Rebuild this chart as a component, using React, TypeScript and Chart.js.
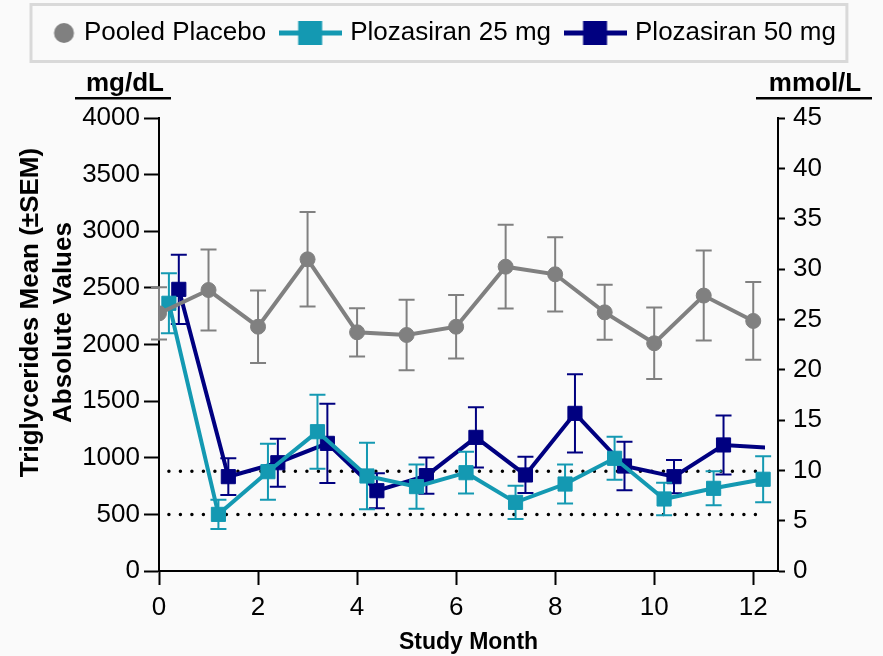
import React, { useEffect, useRef } from 'react';
import { Chart, registerables } from 'chart.js';

Chart.register(...registerables);

// Visit months (treatment arms are nudged right so the markers do not overlap)
const placeboMonths = [0, 1, 2, 3, 4, 5, 6, 7, 8, 9, 10, 11, 12];
const dose25Months = [0.2, 1.2, 2.2, 3.2, 4.2, 5.2, 6.2, 7.2, 8.2, 9.2, 10.2, 11.2, 12.2];
const dose50Months = [0.4, 1.4, 2.4, 3.4, 4.4, 5.4, 6.4, 7.4, 8.4, 9.4, 10.4, 11.4, 12.4];

// Triglycerides, mg/dL: mean and SEM
const placeboMean = [2275, 2481, 2157, 2752, 2108, 2084, 2157, 2687, 2620, 2284, 2011, 2432, 2208];
const placeboSem = [230, 357, 320, 417, 213, 312, 280, 370, 328, 243, 315, 397, 343];
const dose25Mean = [2364, 500, 877, 1230, 839, 745, 868, 606, 768, 995, 636, 730, 810];
const dose25Sem = [265, 130, 247, 327, 294, 195, 184, 147, 173, 190, 143, 150, 203];
const dose50Mean = [2487, 833, 956, 1127, 709, 842, 1180, 848, 1392, 927, 833, 1113, 1085];
const dose50Sem = [305, 162, 211, 350, 155, 160, 265, 160, 345, 215, 147, 260, null];

// Dotted reference levels (mg/dL) and the month span they cover
const refLevels = [500, 880];
const refSpan = [0.2, 12.1];

// Axis ticks
const monthTicks = [0, 2, 4, 6, 8, 10, 12];
const monthAxisMax = 12.5;
const mgTicks = [0, 500, 1000, 1500, 2000, 2500, 3000, 3500, 4000];
const mmolTicks = [0, 5, 10, 15, 20, 25, 30, 35, 40, 45];

const seriesLabels = ['Pooled Placebo', 'Plozasiran 25 mg', 'Plozasiran 50 mg'];
const GRAY = '#808080';
const TEAL = '#1499B2';
const NAVY = '#000080';
const FONT = "'Liberation Sans', Arial, sans-serif";

function toPoints(xs: number[], ys: number[]) {
  return xs.map((x, i) => ({ x, y: ys[i] }));
}

const plainTick = (v: any) => String(v);

function makeIcon(kind: 'circle' | 'square', color: string): HTMLCanvasElement {
  const c = document.createElement('canvas');
  c.width = 63;
  c.height = 26;
  const g = c.getContext('2d')!;
  g.fillStyle = color;
  g.strokeStyle = color;
  if (kind === 'circle') {
    g.beginPath();
    g.arc(51.5, 13, 10, 0, Math.PI * 2);
    g.fill();
  } else {
    g.lineWidth = 5;
    g.beginPath();
    g.moveTo(0, 13);
    g.lineTo(63, 13);
    g.stroke();
    g.fillRect(19.5, 1, 24, 24);
  }
  return c;
}

// Vertical SEM whiskers, drawn just under each series' own line
const errorBars = {
  id: 'errorBars',
  beforeDatasetDraw(chart: any, args: any) {
    const ds = chart.data.datasets[args.index];
    if (!ds.sem) return;
    const { ctx, chartArea } = chart;
    const yScale = chart.scales.y;
    ctx.save();
    ctx.strokeStyle = ds.borderColor;
    ctx.lineWidth = 2;
    const cap = 8;
    args.meta.data.forEach((pt: any, i: number) => {
      const s = ds.sem[i];
      if (s == null || pt.x > chartArea.right) return;
      const v = ds.data[i].y;
      const yTop = yScale.getPixelForValue(v + s);
      const yBot = yScale.getPixelForValue(v - s);
      ctx.beginPath();
      ctx.moveTo(pt.x, yTop);
      ctx.lineTo(pt.x, yBot);
      ctx.moveTo(pt.x - cap, yTop);
      ctx.lineTo(pt.x + cap, yTop);
      ctx.moveTo(pt.x - cap, yBot);
      ctx.lineTo(pt.x + cap, yBot);
      ctx.stroke();
    });
    ctx.restore();
  },
};

// Legend frame, unit captions and the rotated left-axis title
const decorations = {
  id: 'decorations',
  afterDraw(chart: any) {
    const { ctx, chartArea, legend } = chart;
    const { left, right, top, bottom } = chartArea;
    ctx.save();

    const boxes = legend.legendHitBoxes;
    if (boxes && boxes.length) {
      const last = boxes[boxes.length - 1];
      const l = boxes[0].left + 14;
      const r = last.left + last.width + 11;
      ctx.strokeStyle = '#d9d9d9';
      ctx.lineWidth = 3;
      ctx.strokeRect(l, legend.top + 1.5, r - l, legend.height + 4);
    }

    ctx.fillStyle = '#000';
    ctx.font = `bold 26px ${FONT}`;
    ctx.textAlign = 'center';
    ctx.textBaseline = 'alphabetic';
    ctx.fillText('mg/dL', left - 34, top - 27);
    ctx.fillRect(left - 84, top - 21, 96, 2.5);
    ctx.fillText('mmol/L', right + 37, top - 27);
    ctx.fillRect(right - 22, top - 21, 116, 2.5);

    const midY = (top + bottom) / 2;
    ctx.font = `bold 26px ${FONT}`;
    ctx.save();
    ctx.translate(left - 121, midY - 32);
    ctx.rotate(-Math.PI / 2);
    ctx.fillText('Triglycerides Mean (±SEM)', 0, 0);
    ctx.restore();
    ctx.save();
    ctx.translate(left - 88, midY - 22);
    ctx.rotate(-Math.PI / 2);
    ctx.fillText('Absolute Values', 0, 0);
    ctx.restore();

    ctx.restore();
  },
};

export default function App() {
  const canvasRef = useRef<HTMLCanvasElement | null>(null);

  useEffect(() => {
    if (!canvasRef.current) return;
    Chart.defaults.font.family = FONT;
    Chart.defaults.color = '#000';

    const icons = [makeIcon('circle', GRAY), makeIcon('square', TEAL), makeIcon('square', NAVY)];

    const refDatasets = refLevels.map((lvl) => ({
      label: `ref ${lvl}`,
      data: refSpan.map((x) => ({ x, y: lvl })),
      borderColor: '#000',
      borderWidth: 3.5,
      borderDash: [0, 11.5],
      borderCapStyle: 'round',
      pointRadius: 0,
      fill: false,
    }));

    const chart = new Chart(canvasRef.current, {
      type: 'line',
      data: {
        datasets: [
          {
            label: seriesLabels[0],
            data: toPoints(placeboMonths, placeboMean),
            sem: placeboSem,
            borderColor: GRAY,
            backgroundColor: GRAY,
            borderWidth: 4,
            pointStyle: 'circle',
            pointRadius: 7.5,
            pointBorderWidth: 1,
            fill: false,
          },
          {
            label: seriesLabels[1],
            data: toPoints(dose25Months, dose25Mean),
            sem: dose25Sem,
            borderColor: TEAL,
            backgroundColor: TEAL,
            borderWidth: 4,
            pointStyle: 'rect',
            pointRadius: 10,
            pointBorderWidth: 1,
            fill: false,
          },
          {
            label: seriesLabels[2],
            data: toPoints(dose50Months, dose50Mean),
            sem: dose50Sem,
            borderColor: NAVY,
            backgroundColor: NAVY,
            borderWidth: 4,
            pointStyle: 'rect',
            pointRadius: 10,
            pointBorderWidth: 1,
            fill: false,
            clip: { left: 20, top: 20, right: -13, bottom: 20 },
          },
          ...refDatasets,
        ] as any,
      },
      options: {
        animation: false,
        responsive: true,
        maintainAspectRatio: false,
        events: [],
        layout: { padding: { top: 3, left: 0, right: 0, bottom: 0 } },
        plugins: {
          tooltip: { enabled: false },
          legend: {
            position: 'top',
            align: 'start',
            weight: 3000,
            labels: {
              usePointStyle: true,
              pointStyleWidth: 54,
              padding: 17,
              color: '#000',
              font: { size: 26 },
              filter: (item: any) => item.datasetIndex < seriesLabels.length,
              generateLabels: (c: any) =>
                (Chart.defaults.plugins.legend.labels.generateLabels as any)(c).map((item: any) => ({
                  ...item,
                  pointStyle: icons[item.datasetIndex] ?? item.pointStyle,
                })),
            },
          } as any,
          title: {
            display: true,
            text: ' ',
            color: 'rgba(0,0,0,0)',
            font: { size: 10, lineHeight: 1 },
            padding: { top: 52, bottom: 0 },
          },
        },
        scales: {
          x: {
            type: 'linear',
            min: 0,
            max: monthAxisMax,
            afterBuildTicks: (s: any) => {
              s.ticks = monthTicks.map((value) => ({ value }));
            },
            afterFit: (s: any) => {
              s.height = 85;
            },
            ticks: { font: { size: 26 }, color: '#000', padding: 7, maxRotation: 0, callback: plainTick },
            grid: { drawOnChartArea: false, tickLength: 14, tickWidth: 2, tickColor: '#000', color: '#000' },
            border: { display: true, color: '#000', width: 2 },
            title: {
              display: true,
              text: 'Study Month',
              color: '#000',
              font: { size: 23, weight: 'bold' },
              padding: { top: 0, bottom: 0 },
            },
          },
          y: {
            type: 'linear',
            position: 'left',
            min: 0,
            max: 4000,
            afterBuildTicks: (s: any) => {
              s.ticks = mgTicks.map((value) => ({ value }));
            },
            afterFit: (s: any) => {
              s.width = 159;
            },
            ticks: { font: { size: 26 }, color: '#000', padding: 4, callback: plainTick },
            grid: { drawOnChartArea: false, tickLength: 15, tickWidth: 2, tickColor: '#000', color: '#000' },
            border: { display: true, color: '#000', width: 2 },
          },
          y1: {
            type: 'linear',
            position: 'right',
            min: 0,
            max: 45,
            afterBuildTicks: (s: any) => {
              s.ticks = mmolTicks.map((value) => ({ value }));
            },
            afterFit: (s: any) => {
              s.width = 105;
            },
            ticks: { font: { size: 26 }, color: '#000', padding: 8, callback: plainTick },
            grid: { drawOnChartArea: false, tickLength: 7, tickWidth: 2, tickColor: '#000', color: '#000' },
            border: { display: true, color: '#000', width: 2 },
          },
        },
      } as any,
      plugins: [errorBars, decorations],
    });

    return () => chart.destroy();
  }, []);

  return (
    <div
      style={{
        position: 'fixed',
        left: 0,
        top: 0,
        width: 883,
        height: 656,
        background: '#fafafa',
      }}
    >
      <canvas ref={canvasRef} />
    </div>
  );
}
